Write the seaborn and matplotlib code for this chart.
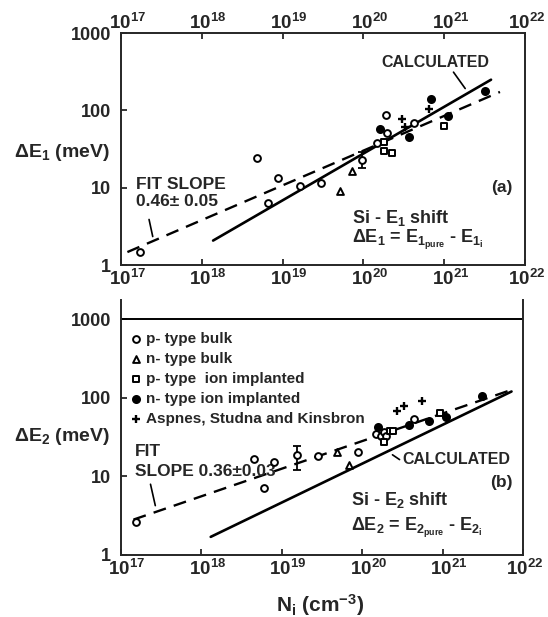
import numpy as np
import pandas as pd
import seaborn as sns
import matplotlib.pyplot as plt
from matplotlib.transforms import ScaledTranslation

# ---- panel (a): Si E1 shift, (N, dE) pairs
a_pbulk_n = [1.7e17, 4.8e18, 6.6e18, 8.7e18, 1.66e19, 2.95e19, 9.5e19, 1.48e20, 1.9e20, 1.95e20, 4.2e20]
a_pbulk_e = [1.47, 23.9, 6.4, 13.2, 10.6, 11.4, 22.8, 38, 86, 50.2, 68.6]
a_nbulk_n = [5.1e19, 7.2e19]
a_nbulk_e = [9.0, 16.4]
a_pimp_n = [1.78e20, 1.82e20, 2.24e20, 1.0e21]
a_pimp_e = [29.9, 38.5, 28.2, 62.3]
a_nimp_n = [1.62e20, 3.7e20, 6.9e20, 1.1e21, 3.16e21]
a_nimp_e = [58.2, 44.6, 139, 84.8, 177]
a_asp_n = [3.0e20, 3.24e20, 6.5e20]
a_asp_e = [76.9, 61, 105]
a_err_n = [9.5e19]
a_err_e = [22.8]
a_err_lo = [17.8]
a_err_hi = [29.2]
a_fit_n = [1.2e17, 4.9e21]
a_fit_e = [1.47, 173]
a_calc_n = [1.38e18, 3.8e21]
a_calc_e = [2.07, 249]

# ---- panel (b): Si E2 shift
b_pbulk_n = [1.58e17, 4.5e18, 6.0e18, 8.1e18, 1.55e19, 2.8e19, 8.9e19, 1.5e20, 1.7e20, 1.86e20, 2.0e20, 4.4e20]
b_pbulk_e = [2.65, 16.8, 7.1, 15.2, 18.5, 17.9, 20.2, 34.9, 33, 37, 33, 54]
b_nbulk_n = [4.9e19, 6.8e19]
b_nbulk_e = [20.4, 14.1]
b_pimp_n = [1.86e20, 2.2e20, 2.4e20, 9.3e20]
b_pimp_e = [27.5, 38, 38, 64]
b_nimp_n = [1.58e20, 3.8e20, 6.8e20, 1.12e21, 3.1e21]
b_nimp_e = [42.9, 45, 51, 57, 106]
b_asp_n = [2.75e20, 3.3e20, 5.6e20]
b_asp_e = [68, 79, 91]
b_err_n = [1.55e19]
b_err_e = [18.5]
b_err_lo = [12.2]
b_err_hi = [24]
b_fit_n = [1.45e17, 7.2e21]
b_fit_e = [2.82, 126]
b_calc_n = [1.32e18, 7.2e21]
b_calc_e = [1.70, 120]

xticks = [1e17, 1e18, 1e19, 1e20, 1e21, 1e22]
xticklabels = ['10$^{17}$', '10$^{18}$', '10$^{19}$', '10$^{20}$', '10$^{21}$', '10$^{22}$']
yticks = [1, 10, 100, 1000]
yticklabels = ['1', '10', '100', '1000']

sns.set_style('ticks')
plt.rcParams['font.family'] = ['Liberation Sans', 'DejaVu Sans']
plt.rcParams['font.weight'] = 'bold'
plt.rcParams['axes.labelweight'] = 'bold'
plt.rcParams['mathtext.fontset'] = 'custom'
plt.rcParams['mathtext.rm'] = 'Liberation Sans:bold'
plt.rcParams['mathtext.it'] = 'Liberation Sans:bold'
plt.rcParams['mathtext.bf'] = 'Liberation Sans:bold'
plt.rcParams['mathtext.default'] = 'rm'
plt.rcParams['axes.linewidth'] = 1.4

fig = plt.figure(figsize=(5.48, 6.17), dpi=100)
ax_a = fig.add_axes([0.2208, 0.5705, 0.7372, 0.376])
ax_b = fig.add_axes([0.2199, 0.1005, 0.7345, 0.4133])

styles = [
    ('p- type bulk', 'o', 'white', 24),
    ('n- type bulk', '^', 'white', 24),
    ('p- type  ion implanted', 's', 'white', 20),
    ('n- type ion implanted', 'o', 'black', 26),
    ('Aspnes, Studna and Kinsbron', '+', 'black', 36),
]


def shift_labels(labels):
    # move the "10" of each label onto its tick, the exponent hangs to the right
    # (the last one less, so it stays inside the figure)
    for i, lab in enumerate(labels):
        dx = 1.0 if i == len(labels) - 1 else 4.5
        lab.set_transform(lab.get_transform() + ScaledTranslation(dx / 72, 0, fig.dpi_scale_trans))


def draw_panel(ax, series, err, fit, calc):
    for (label, mk, fc, size), (xs, ys) in zip(styles, series):
        if mk == '+':
            sns.scatterplot(x=xs, y=ys, ax=ax, marker=mk, s=size, color='black',
                            linewidth=1.7, label=label, zorder=4)
        else:
            sns.scatterplot(x=xs, y=ys, ax=ax, marker=mk, s=size, facecolor=fc,
                            edgecolor='black', linewidth=1.4, label=label, zorder=4)
    en, ee, lo, hi = err
    ax.errorbar(en, ee, yerr=[np.subtract(ee, lo), np.subtract(hi, ee)], fmt='none',
                ecolor='black', elinewidth=1.3, capsize=3, capthick=1.3, zorder=3)
    sns.lineplot(x=fit[0], y=fit[1], ax=ax, color='black', lw=1.7,
                 linestyle=(0, (5.5, 3.5)), zorder=2)
    sns.lineplot(x=calc[0], y=calc[1], ax=ax, color='black', lw=1.9, zorder=2)
    ax.set_xscale('log')
    ax.set_yscale('log')
    ax.set_xlim(1e17, 1e22)
    ax.set_xticks(xticks)
    ax.set_xticklabels(xticklabels)
    ax.set_yticks(yticks)
    ax.set_yticklabels(yticklabels)
    ax.minorticks_off()
    ax.tick_params(direction='in', length=4, width=1.3, labelsize=13.5, pad=3)
    ax.tick_params(axis='y', labelsize=13, pad=7)
    ax.set_xlabel('')
    shift_labels(ax.get_xticklabels())


draw_panel(ax_a,
           [(a_pbulk_n, a_pbulk_e), (a_nbulk_n, a_nbulk_e), (a_pimp_n, a_pimp_e),
            (a_nimp_n, a_nimp_e), (a_asp_n, a_asp_e)],
           (a_err_n, a_err_e, a_err_lo, a_err_hi), (a_fit_n, a_fit_e), (a_calc_n, a_calc_e))
ax_a.set_ylim(1, 1000)
ax_a.tick_params(axis='x', top=True)
ax_a.get_legend().remove()
top = ax_a.secondary_xaxis('top')
top.set_xticks(xticks)
top.set_xticklabels(xticklabels)
top.minorticks_off()
top.tick_params(length=0, labelsize=13.5, pad=0)
top.spines['top'].set_visible(False)
shift_labels(top.get_xticklabels())
ax_a.set_ylabel('ΔE$_1$ (meV)', rotation=0, fontsize=14, ha='right', va='center')
ax_a.yaxis.set_label_coords(-0.027, 0.483)

draw_panel(ax_b,
           [(b_pbulk_n, b_pbulk_e), (b_nbulk_n, b_nbulk_e), (b_pimp_n, b_pimp_e),
            (b_nimp_n, b_nimp_e), (b_asp_n, b_asp_e)],
           (b_err_n, b_err_e, b_err_lo, b_err_hi), (b_fit_n, b_fit_e), (b_calc_n, b_calc_e))
ax_b.set_ylim(1, 1750)
ax_b.spines['top'].set_visible(False)
ax_b.axhline(1000, color='black', lw=1.4)
ax_b.set_ylabel('ΔE$_2$ (meV)', rotation=0, fontsize=14, ha='right', va='center')
ax_b.yaxis.set_label_coords(-0.027, 0.463)
ax_b.set_xlabel('N$_i$ (cm$^{-3}$)', fontsize=15)
ax_b.xaxis.set_label_coords(0.496, -0.145)
ax_b.legend(loc='upper left', bbox_to_anchor=(0.02, 0.875), frameon=False, fontsize=11,
            handletextpad=0.15, labelspacing=0.4, borderaxespad=0, borderpad=0,
            handlelength=1.0)

# ---- annotations, panel (a)
txt = dict(fontsize=12.5, fontweight='bold')
ax_a.text(0.777, 0.875, 'CALCULATED', transform=ax_a.transAxes, ha='center', va='center', fontsize=11.5)
ax_a.annotate('', xy=(0.856, 0.751), xytext=(0.819, 0.841), xycoords='axes fraction',
              arrowprops=dict(arrowstyle='-', lw=1.2, color='black'))
ax_a.text(0.037, 0.349, 'FIT SLOPE', transform=ax_a.transAxes, ha='left', va='center', **txt)
ax_a.text(0.037, 0.273, '0.46± 0.05', transform=ax_a.transAxes, ha='left', va='center', **txt)
ax_a.annotate('', xy=(0.080, 0.111), xytext=(0.068, 0.208), xycoords='axes fraction',
              arrowprops=dict(arrowstyle='-', lw=1.2, color='black'))
ax_a.text(0.970, 0.332, '(a)', transform=ax_a.transAxes, ha='right', va='center', **txt)
ax_a.text(0.572, 0.203, 'Si - E$_1$ shift', transform=ax_a.transAxes, ha='left', va='center', fontsize=13)
ax_a.text(0.572, 0.108, 'ΔE$_1$ = E$_{1_{pure}}$ - E$_{1_i}$', transform=ax_a.transAxes,
          ha='left', va='center', fontsize=13)

# ---- annotations, panel (b)
ax_b.text(0.036, 0.405, 'FIT', transform=ax_b.transAxes, ha='left', va='center', **txt)
ax_b.text(0.036, 0.327, 'SLOPE 0.36±0.03', transform=ax_b.transAxes, ha='left', va='center', **txt)
ax_b.annotate('', xy=(0.088, 0.183), xytext=(0.073, 0.288), xycoords='axes fraction',
              arrowprops=dict(arrowstyle='-', lw=1.2, color='black'))
ax_b.text(0.700, 0.375, 'CALCULATED', transform=ax_b.transAxes, ha='left', va='center', fontsize=11.5)
ax_b.annotate('', xy=(0.699, 0.368), xytext=(0.670, 0.399), xycoords='axes fraction',
              arrowprops=dict(arrowstyle='-', lw=1.2, color='black'))
ax_b.text(0.974, 0.284, '(b)', transform=ax_b.transAxes, ha='right', va='center', **txt)
ax_b.text(0.572, 0.216, 'Si - E$_2$ shift', transform=ax_b.transAxes, ha='left', va='center', fontsize=13)
ax_b.text(0.572, 0.105, 'ΔE$_2$ = E$_{2_{pure}}$ - E$_{2_i}$', transform=ax_b.transAxes,
          ha='left', va='center', fontsize=13)

fig.savefig('out.png', dpi=100)
